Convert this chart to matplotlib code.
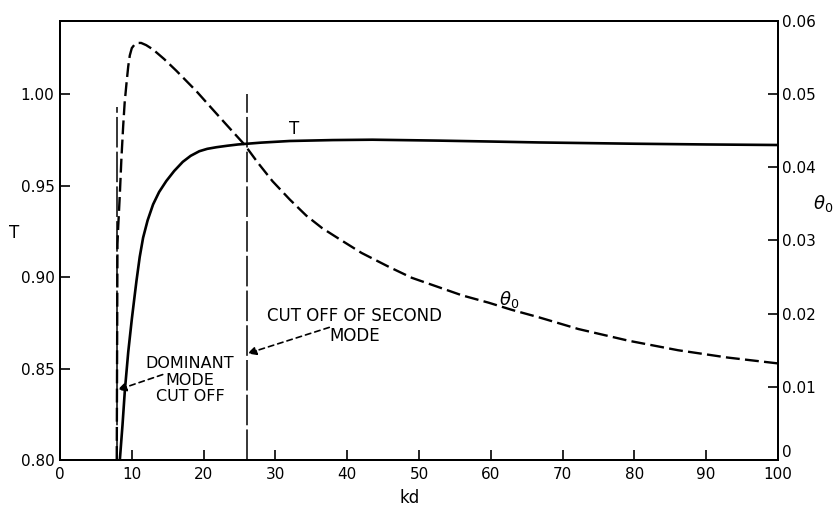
"""Transmission T and angle theta_0 versus kd, with mode cut-off markers."""

import matplotlib

matplotlib.use("Agg")
import matplotlib.pyplot as plt

plt.rcParams["font.family"] = ["DejaVu Sans"]
plt.rcParams["lines.scale_dashes"] = False

# T curve (left axis)
kd_t = [8.33, 8.7, 9.03, 9.5, 10.0, 10.4, 10.65, 11.1, 11.57, 12.2, 12.96, 13.8,
        14.8, 15.9, 17.1, 18.2, 19.4, 20.5, 21.8, 23.3, 24.8, 28.0, 32.0, 38.0,
        43.5, 52.8, 60.0, 66.7, 80.0, 90.0, 100.0]
t_vals = [0.800, 0.819, 0.838, 0.859, 0.877, 0.890, 0.898, 0.911, 0.9215, 0.931,
          0.9397, 0.9465, 0.9525, 0.958, 0.963, 0.9663, 0.9688, 0.9701, 0.971,
          0.9718, 0.9725, 0.9735, 0.9744, 0.9749, 0.9751, 0.9746, 0.9741, 0.9736,
          0.9729, 0.9725, 0.9722]

# theta_0 curve (right axis)
kd_theta = [7.9, 8.0, 8.1, 8.33, 8.55, 8.8, 9.0, 9.26, 9.5, 9.72, 10.0, 10.4, 10.8,
            11.3, 12.0, 12.96, 14.5, 16.2, 17.5, 19.0, 21.0, 23.2, 25.7, 27.5,
            29.6, 32.0, 34.3, 36.5, 38.9, 42.0, 45.8, 49.0, 52.8, 56.0, 59.7,
            63.0, 66.7, 72.2, 79.2, 86.1, 93.0, 100.0]
theta_vals = [0.0, 0.0295, 0.0318, 0.0363, 0.0412, 0.0457, 0.0488, 0.0515, 0.0538,
              0.0553, 0.0563, 0.0568, 0.0570, 0.0570, 0.0567, 0.0561, 0.0548,
              0.0532, 0.0519, 0.0504, 0.0482, 0.0458, 0.0431, 0.0407, 0.0381,
              0.0356, 0.0334, 0.0317, 0.0302, 0.0283, 0.0264, 0.0249, 0.0236,
              0.0225, 0.0215, 0.0205, 0.0195, 0.0179, 0.0163, 0.0150, 0.0140,
              0.0132]

# cut-off positions and the T value where each marker line stops
cutoff_kd = [7.9, 26.0]
cutoff_top = [0.993, 1.000]

x_ticks = list(range(0, 101, 10))
t_ticks = [0.80, 0.85, 0.90, 0.95, 1.00]
theta_ticks = [0.0, 0.01, 0.02, 0.03, 0.04, 0.05, 0.06]
theta_labels = ["0", "0.01", "0.02", "0.03", "0.04", "0.05", "0.06"]

fig = plt.figure(figsize=(8.36, 5.07), dpi=100)
ax = fig.add_axes([0.0718, 0.0927, 0.8588, 0.8659])
ax2 = ax.twinx()

ax.plot(kd_t, t_vals, color="black", linewidth=1.9, solid_capstyle="butt", zorder=3)
ax2.plot(kd_theta, theta_vals, color="black", linewidth=1.7, dashes=[10, 3.8], zorder=3)

for kd, top in zip(cutoff_kd, cutoff_top):
    ax.plot([kd, kd], [0.80, top], color="black", linewidth=1.1, dashes=[22, 3])

ax.set_xlim(0, 100)
ax.set_ylim(0.80, 1.04)
ax2.set_ylim(0.0, 0.06)

ax.set_xticks(x_ticks)
ax.set_yticks(t_ticks)
ax.set_yticklabels([f"{v:.2f}" for v in t_ticks])
ax2.set_yticks(theta_ticks)
ax2.set_yticklabels(theta_labels)
ax2.get_yticklabels()[0].set_verticalalignment("bottom")

for a in (ax, ax2):
    for s in a.spines.values():
        s.set_linewidth(1.4)
ax.tick_params(axis="both", direction="in", length=7, width=1.2, labelsize=11)
ax.tick_params(axis="x", pad=5, top=False)
ax.tick_params(axis="y", pad=4, right=False)
ax2.tick_params(axis="y", direction="in", length=7, width=1.2, labelsize=11, pad=3, left=False)

# curve labels
ax.text(32.6, 0.981, "T", fontsize=12, ha="center", va="center")
ax.text(62.5, 0.888, r"$\theta_0$", fontsize=13, ha="center", va="center")

# cut-off annotations
ax.text(41.0, 0.8735, "CUT OFF OF SECOND\nMODE", fontsize=12, ha="center", va="center",
        multialignment="center", linespacing=1.15)
ax.annotate("", xy=(26.1, 0.8582), xytext=(37.5, 0.8725),
            arrowprops=dict(arrowstyle="-|>", linestyle=(0, (4, 3)), lw=1.2, color="black",
                            shrinkA=0, shrinkB=0, mutation_scale=13))
ax.text(18.1, 0.8437, "DOMINANT\nMODE\nCUT OFF", fontsize=11.5, ha="center", va="center",
        multialignment="center", linespacing=1.15)
ax.annotate("", xy=(8.0, 0.8383), xytext=(14.3, 0.8467),
            arrowprops=dict(arrowstyle="-|>", linestyle=(0, (4, 3)), lw=1.2, color="black",
                            shrinkA=0, shrinkB=0, mutation_scale=13))

# axis titles
fig.text(14 / 836, 1 - 233 / 507, "T", fontsize=12, ha="center", va="center")
fig.text(823 / 836, 1 - 203 / 507, r"$\theta_0$", fontsize=13, ha="center", va="center")
fig.text(410 / 836, 1 - 498 / 507, "kd", fontsize=12, ha="center", va="center")

fig.savefig("out.png", dpi=100)
